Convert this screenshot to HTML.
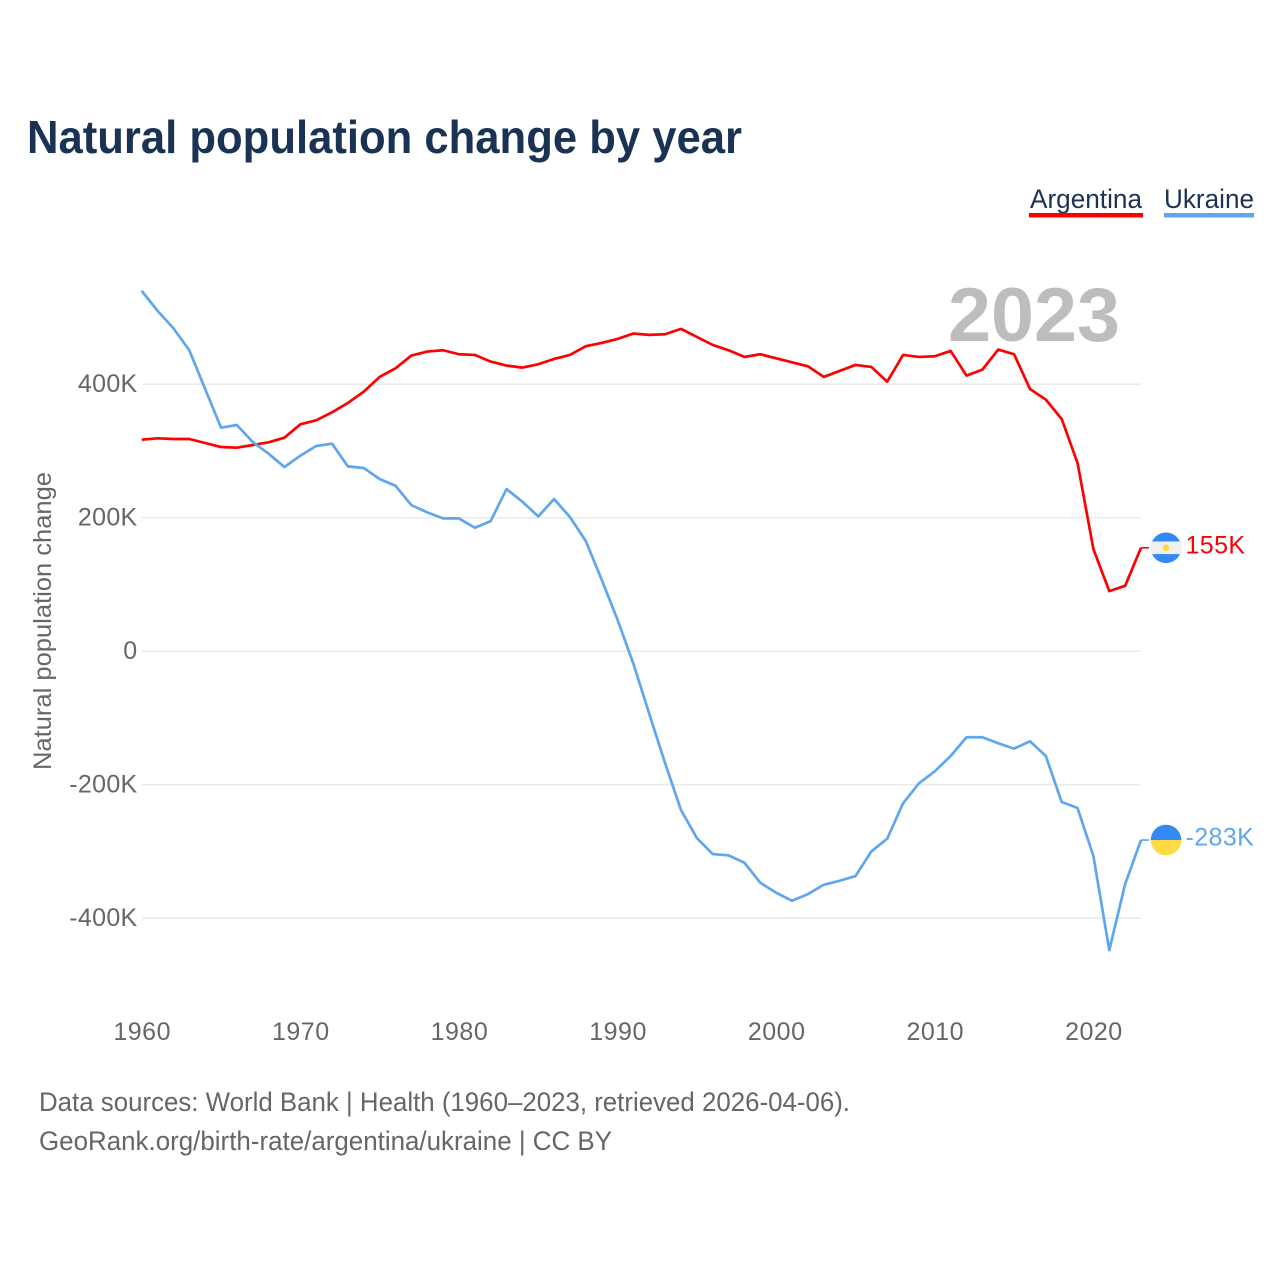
<!DOCTYPE html>
<html lang="en">
<head>
<meta charset="utf-8">
<title>Natural population change by year</title>
<style>
html,body{margin:0;padding:0;background:#fff;}
svg{display:block;font-family:"Liberation Sans",sans-serif;}
</style>
</head>
<body>
<svg id="chart" xmlns="http://www.w3.org/2000/svg" width="1280" height="1280" viewBox="0 0 1280 1280">
  <rect x="0" y="0" width="1280" height="1280" fill="#fff"/>
  <text x="27" y="153" font-size="46" font-weight="700" fill="#1a3354" textLength="715" lengthAdjust="spacingAndGlyphs">Natural population change by year</text>
  <g>
    <text x="1030" y="208" font-size="27" fill="#1a3354" textLength="112" lengthAdjust="spacingAndGlyphs">Argentina</text>
    <rect x="1029" y="213" width="114" height="4.5" fill="#ff0000"/>
  </g>
  <g>
    <text x="1164" y="208" font-size="27" fill="#1a3354" textLength="90" lengthAdjust="spacingAndGlyphs">Ukraine</text>
    <rect x="1164" y="213" width="90" height="4.5" fill="#5ea6ee"/>
  </g>
  <g id="grid"></g>
  <text x="948" y="341" font-size="76" font-weight="700" fill="#bdbdbd" textLength="172" lengthAdjust="spacingAndGlyphs">2023</text>
  <g id="yticks"></g>
  <g id="xticks"></g>
  <text transform="translate(51,770) rotate(-90)" x="0" y="0" font-size="25" fill="#666" textLength="298" lengthAdjust="spacingAndGlyphs">Natural population change</text>
  <g id="series"></g>
  <text x="39" y="1111" font-size="27" fill="#666" textLength="811" lengthAdjust="spacingAndGlyphs">Data sources: World Bank | Health (1960–2023, retrieved 2026-04-06).</text>
  <text x="39" y="1150" font-size="27" fill="#666" textLength="573" lengthAdjust="spacingAndGlyphs">GeoRank.org/birth-rate/argentina/ukraine | CC BY</text>
</svg>
<script>
var startYear = 1960;
var argentinaValues = [317,319,318,318,312,306,305,309,313,320,340,346,358,372,389,411,424,443,449,451,445,444,434,428,425,430,438,444,457,462,468,476,474,475,483,471,459,451,441,445,439,433,427,411,420,429,426,404,444,441,442,450,413,422,452,445,393,377,348,282,153,90,98,155];
var ukraineValues = [540,510,484,451,393,335,339,313.5,296,276,293,307.5,311,277,274.5,258,248,219,208,199,199,185,195,243,224,202,228,201,165,107,47,-19,-94,-168,-238,-280,-304,-306,-317,-347,-362,-374,-364,-350,-344,-337,-300,-281,-228,-198,-180,-157,-129,-129,-138,-146,-135,-157,-226,-235,-307,-448,-349,-283];
var yTickValues = [400,200,0,-200,-400];
var yTickLabels = ['400K','200K','0','-200K','-400K'];
var xTickValues = [1960,1970,1980,1990,2000,2010,2020];
var xTickLabels = ['1960','1970','1980','1990','2000','2010','2020'];

var NS = 'http://www.w3.org/2000/svg';
function xScale(year){ return 141.7 + (year - 1960) * (999.3 / 63); }
function yScale(v){ return 651.2 - v * 0.6673; }
function make(tag, attrs, parent){
  var el = document.createElementNS(NS, tag);
  for (var k in attrs) el.setAttribute(k, attrs[k]);
  parent.appendChild(el);
  return el;
}
function formatK(v){ return Math.round(v) + 'K'; }

var gridG = document.getElementById('grid');
var yG = document.getElementById('yticks');
var xG = document.getElementById('xticks');
var seriesG = document.getElementById('series');

yTickValues.forEach(function(v, i){
  var line = make('line', {x1:142, x2:1141, y1:yScale(v), y2:yScale(v), stroke:'#eaeaea', 'stroke-width':1.5}, gridG);
  
  
  var t = make('text', {x:137.5, y:yScale(v)+7.8, 'text-anchor':'end', 'font-size':25, fill:'#666', 'letter-spacing':'0.3'}, yG);
  
  
  t.textContent = yTickLabels[i];
});

xTickValues.forEach(function(v, i){
  var t = make('text', {x:xScale(v) + 0.5, y:1040, 'text-anchor':'middle', 'font-size':25, fill:'#666', 'letter-spacing':'0.5'}, xG);
  
  
  t.textContent = xTickLabels[i];
});

function drawLine(values, color, name){
  var d = values.map(function(v, i){
    return (i ? 'L' : 'M') + xScale(startYear + i).toFixed(2) + ' ' + yScale(v).toFixed(2);
  }).join(' ');
  var p = make('path', {d:d, fill:'none', stroke:color, 'stroke-width':2.7, 'stroke-linejoin':'round'}, seriesG);
  
  
}

function drawEnd(values, color, kind){
  var last = values[values.length - 1];
  var px = xScale(startYear + values.length - 1);
  var py = yScale(last);
  var cx = px + 25;
  var conn = make('line', {x1:px, x2:px + 8, y1:py, y2:py, stroke:color, 'stroke-width':1.6}, seriesG);
  
  
  var flag = make('g', {}, seriesG);
  
  
  if (kind === 'argentina') {
    make('circle', {cx:cx, cy:py, r:15.3, fill:'#338af3'}, flag);
    make('rect', {x:cx - 15.3, y:py - 6.3, width:30.6, height:12.6, fill:'#f0f0f0'}, flag);
    make('circle', {cx:cx, cy:py, r:3.4, fill:'#ffda44'}, flag);
  } else {
    make('path', {d:'M'+(cx-15.3)+' '+py+' A15.3 15.3 0 0 1 '+(cx+15.3)+' '+py+' Z', fill:'#338af3'}, flag);
    make('path', {d:'M'+(cx-15.3)+' '+py+' A15.3 15.3 0 0 0 '+(cx+15.3)+' '+py+' Z', fill:'#ffda44'}, flag);
  }
  var t = make('text', {x:px + 44.5, y:py + 5.5, 'font-size':25, fill:color, 'letter-spacing':'0.4'}, seriesG);
  
  
  t.textContent = formatK(last);
}

drawLine(argentinaValues, '#ff0000', 'argentina-line');
drawLine(ukraineValues, '#5ea6ee', 'ukraine-line');
drawEnd(argentinaValues, '#ff0000', 'argentina');
drawEnd(ukraineValues, '#5ea6ee', 'ukraine');
</script>
</body>
</html>
